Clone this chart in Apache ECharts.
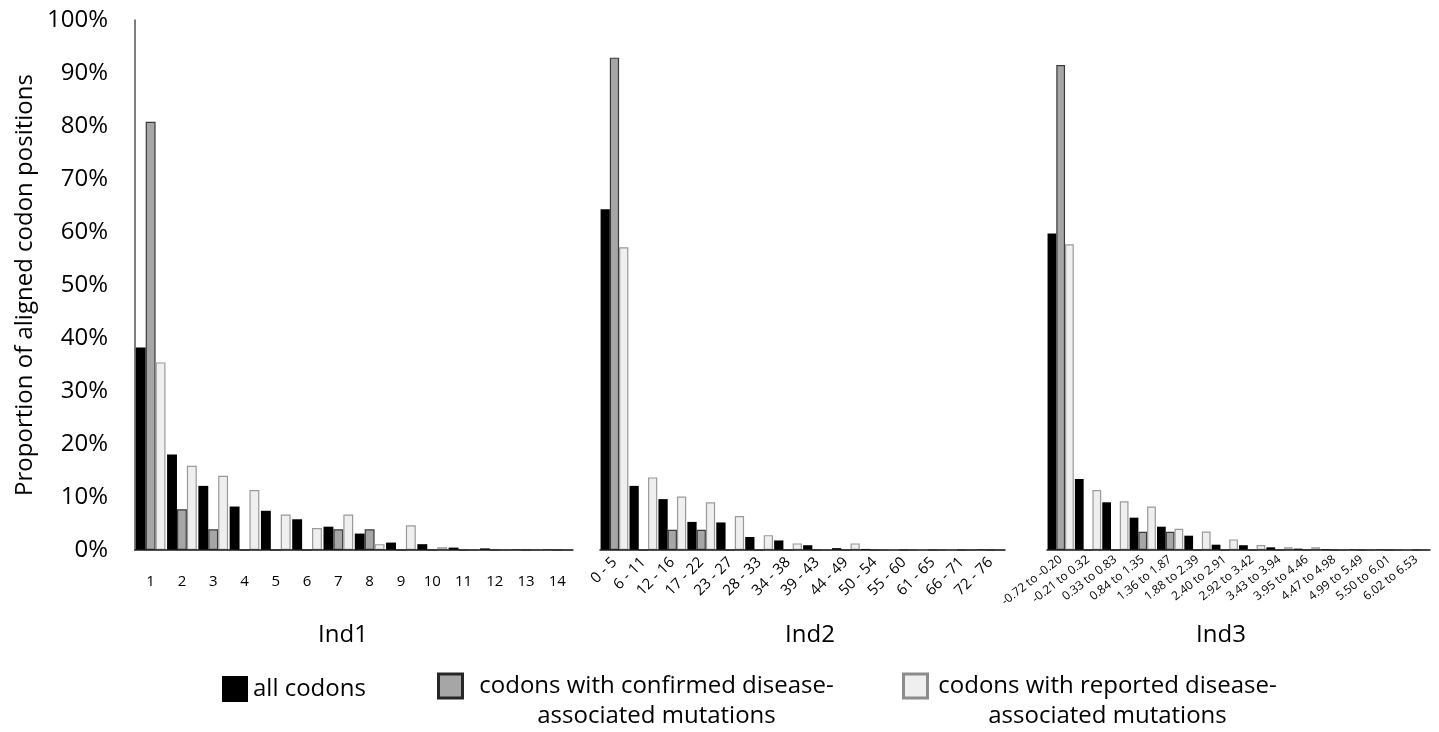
<!DOCTYPE html>
<html>
<head>
<meta charset="utf-8">
<script src="https://cdn.jsdelivr.net/npm/echarts@6/dist/echarts.min.js"></script>
<style>
html,body{margin:0;padding:0;background:#fff;}
#chart{width:1439px;height:732px;}
</style>
</head>
<body>
<div id="chart"></div>
<script>
// ---- data (percent of aligned codon positions) ----
var ind1Cats = ['1','2','3','4','5','6','7','8','9','10','11','12','13','14'];
var ind1All = [38.2, 18.0, 12.1, 8.2, 7.4, 5.8, 4.4, 3.1, 1.4, 1.1, 0.45, 0.3, 0.1, 0.1];
var ind1Confirmed = [80.8, 7.7, 3.9, 0, 0, 0, 3.9, 3.9, 0, 0, 0, 0, 0, 0];
var ind1Reported = [35.4, 15.9, 14.0, 11.3, 6.7, 4.15, 6.7, 1.1, 4.65, 0.5, 0, 0, 0, 0];

var ind2Cats = ['0 - 5','6 - 11','12 - 16','17 - 22','23 - 27','28 - 33','34 - 38','39 - 43','44 - 49','50 - 54','55 - 60','61 - 65','66 - 71','72 - 76'];
var ind2All = [64.3, 12.1, 9.6, 5.3, 5.2, 2.45, 1.8, 0.9, 0.35, 0.2, 0, 0, 0, 0.1];
var ind2Confirmed = [92.9, 0, 3.8, 3.8, 0, 0, 0, 0, 0, 0, 0, 0, 0, 0];
var ind2Reported = [57.1, 13.7, 10.1, 9.0, 6.4, 2.8, 1.25, 0, 1.25, 0, 0, 0, 0, 0];

var ind3Cats = ['-0.72 to -0.20','-0.21 to 0.32','0.33 to 0.83','0.84 to 1.35','1.36 to 1.87','1.88 to 2.39','2.40 to 2.91','2.92 to 3.42','3.43 to 3.94','3.95 to 4.46','4.47 to 4.98','4.99 to 5.49','5.50 to 6.01','6.02 to 6.53'];
var ind3All = [59.7, 13.4, 9.0, 6.1, 4.4, 2.7, 1.0, 0.9, 0.5, 0.25, 0.15, 0.1, 0.1, 0];
var ind3Confirmed = [91.5, 0, 0, 3.45, 3.45, 0, 0, 0, 0, 0, 0, 0, 0, 0];
var ind3Reported = [57.7, 11.3, 9.2, 8.2, 4.0, 3.5, 2.0, 0.95, 0.5, 0.5, 0, 0, 0, 0];

var panelTitles = ['Ind1', 'Ind2', 'Ind3'];
var seriesNames = ['all codons', 'codons with confirmed disease-associated mutations', 'codons with reported disease-associated mutations'];
var yTickMax = 100, yTickStep = 10;

// ---- styling ----
var FONT = 'Open Sans';
var styles = [
  {color: '#000000', borderColor: '#000000', borderWidth: 0},
  {color: '#a6a6a6', borderColor: '#3a3a3a', borderWidth: 1.2},
  {color: '#efefef', borderColor: '#9a9a9a', borderWidth: 1.2}
];
var grids = [
  {left: 135, top: 20, width: 438, height: 530},
  {left: 600, top: 20, width: 405, height: 530},
  {left: 1047, top: 20, width: 383, height: 530}
];
var catGaps = ['5%', '4%', '4%'];
var panels = [
  {cats: ind1Cats, data: [ind1All, ind1Confirmed, ind1Reported]},
  {cats: ind2Cats, data: [ind2All, ind2Confirmed, ind2Reported]},
  {cats: ind3Cats, data: [ind3All, ind3Confirmed, ind3Reported]}
];
var labelCfg = [
  {rotate: 0, fontSize: 15, margin: 24},
  {rotate: 45, fontSize: 15, margin: 10},
  {rotate: 38, fontSize: 12, margin: 8}
];

var xAxes = [], yAxes = [], series = [];
panels.forEach(function (p, i) {
  xAxes.push({
    type: 'category', gridIndex: i, data: p.cats, z: 10,
    axisLine: {show: true, lineStyle: {color: '#1a1a1a', width: 1.5}},
    axisTick: {show: false},
    axisLabel: {interval: 0, rotate: labelCfg[i].rotate, fontSize: labelCfg[i].fontSize,
      margin: labelCfg[i].margin, color: '#000', fontFamily: FONT}
  });
  yAxes.push({
    type: 'value', gridIndex: i, min: 0, max: yTickMax, interval: yTickStep,
    show: i === 0,
    splitLine: {show: false},
    axisTick: {show: false},
    axisLine: {show: i === 0, lineStyle: {color: '#555', width: 1.5}},
    axisLabel: {show: i === 0, formatter: '{value}%', fontSize: 24, color: '#000', margin: 27, fontFamily: FONT},
    name: i === 0 ? 'Proportion of aligned codon positions' : '',
    nameLocation: 'middle', nameGap: 98,
    nameTextStyle: {fontSize: 24, color: '#000', fontFamily: FONT}
  });
  p.data.forEach(function (vals, k) {
    series.push({
      type: 'bar', name: seriesNames[k], xAxisIndex: i, yAxisIndex: i,
      data: vals, barGap: '0%', barCategoryGap: catGaps[i],
      itemStyle: styles[k], emphasis: {disabled: true}, animation: false
    });
  });
});

var richA = function (w) {
  return {e: {fontSize: 24, lineHeight: 30, fontFamily: FONT},
          a: {fontSize: 24, lineHeight: 30, width: w, align: 'center', color: '#000', fontFamily: FONT}};
};

var option = {
  backgroundColor: '#fff',
  animation: false,
  grid: grids,
  xAxis: xAxes,
  yAxis: yAxes,
  series: series,
  legend: [
    {data: [seriesNames[0]], left: 222, top: 674, padding: 0, itemWidth: 26, itemHeight: 26,
     selectedMode: false, icon: 'rect',
     itemStyle: {borderWidth: 0},
     textStyle: {fontSize: 24, color: '#000', fontFamily: FONT, lineHeight: 30}},
    {data: [seriesNames[1]], left: 437, top: 644, padding: 0, itemWidth: 24, itemHeight: 24,
     selectedMode: false, icon: 'rect',
     itemStyle: {borderWidth: 3, borderColor: '#262626'},
     formatter: function () { return '{e| }\n{a|codons with confirmed disease-}\n{a|associated mutations}'; },
     textStyle: {rich: richA(378)}},
    {data: [seriesNames[2]], left: 902, top: 644, padding: 0, itemWidth: 24, itemHeight: 24,
     selectedMode: false, icon: 'rect',
     itemStyle: {borderWidth: 3, borderColor: '#8c8c8c'},
     formatter: function () { return '{e| }\n{a|codons with reported disease-}\n{a|associated mutations}'; },
     textStyle: {rich: richA(350)}}
  ],
  graphic: [
    {type: 'text', x: 343, y: 635, style: {text: panelTitles[0], fontSize: 24, fontFamily: FONT, fill: '#000', align: 'center', verticalAlign: 'middle'}},
    {type: 'text', x: 810, y: 635, style: {text: panelTitles[1], fontSize: 24, fontFamily: FONT, fill: '#000', align: 'center', verticalAlign: 'middle'}},
    {type: 'text', x: 1221, y: 635, style: {text: panelTitles[2], fontSize: 24, fontFamily: FONT, fill: '#000', align: 'center', verticalAlign: 'middle'}}
  ]
};

var chart = echarts.init(document.getElementById('chart'), null, {renderer: 'canvas'});
chart.setOption(option);
</script>
</body>
</html>
